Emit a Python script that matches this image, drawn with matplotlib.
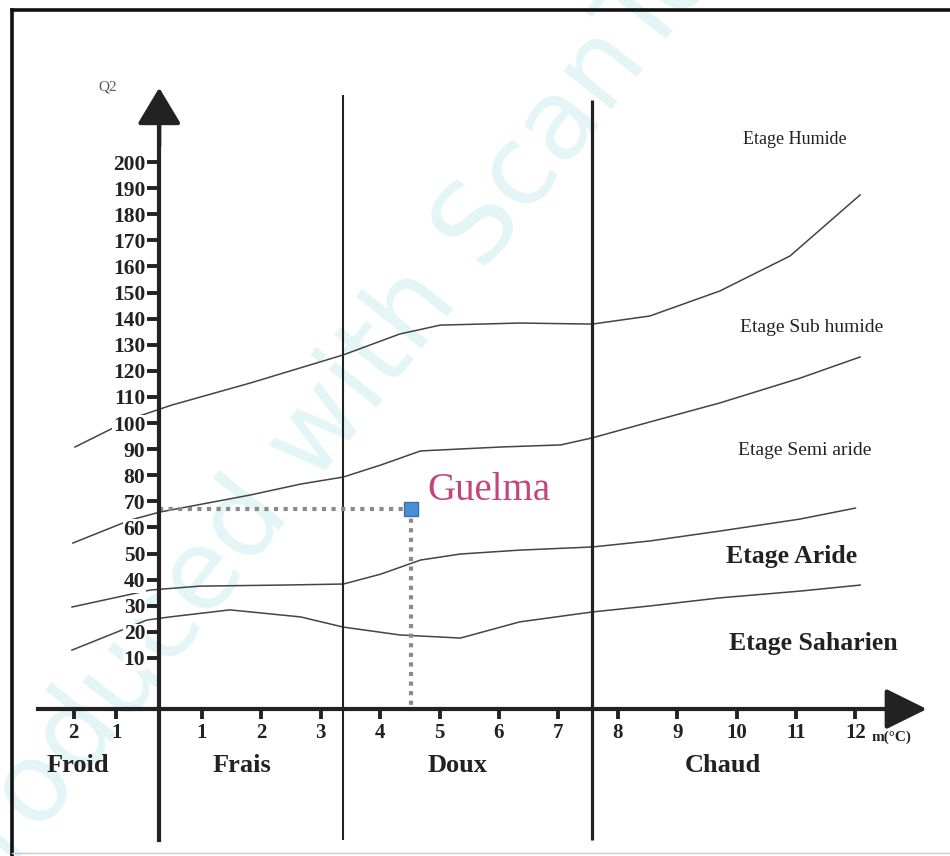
"""
Emberger climagram (Q2 vs m) with the Guelma station.
"""
import numpy as np
import matplotlib
matplotlib.use("Agg")
import matplotlib.pyplot as plt
from matplotlib.lines import Line2D

# --- data ---
curve_hum_x = [-1.97, -0.61, 0.30, 1.81, 3.38, 4.33, 5.01, 6.35, 7.57, 8.54, 9.72, 10.90, 12.08]
curve_hum_y = [90.8, 101.9, 106.9, 115.3, 126.1, 134.1, 137.5, 138.3, 137.9, 141.0, 150.6, 164.0, 187.4]

curve_semi_x = [-2.02, -0.68, 0.02, 1.81, 2.66, 3.38, 4.01, 4.68, 6.03, 7.04, 7.57, 8.54, 9.72, 11.07, 12.08]
curve_semi_y = [54.0, 62.8, 65.9, 72.4, 76.6, 79.3, 83.9, 89.3, 90.8, 91.6, 94.3, 100.4, 107.7, 117.2, 125.3]

curve_arid_x = [-2.04, -0.21, 0.95, 2.32, 3.38, 4.01, 4.68, 5.35, 6.35, 7.57, 8.54, 9.72, 11.07, 12.0]
curve_arid_y = [29.5, 36.0, 37.5, 37.9, 38.3, 42.1, 47.5, 49.8, 51.3, 52.5, 54.8, 58.6, 63.2, 67.4]

curve_sah_x = [-2.04, -0.29, 0.25, 1.47, 2.66, 3.38, 4.33, 5.35, 6.35, 7.57, 8.54, 9.72, 11.07, 12.08]
curve_sah_y = [13.0, 24.5, 25.7, 28.4, 25.7, 21.8, 18.8, 17.6, 23.8, 27.6, 29.9, 33.0, 35.6, 37.9]

guelma_m = 4.52
guelma_q2 = 67

q2_ticks = list(range(10, 201, 10))
m_ticks = [-2, -1, 1, 2, 3, 4, 5, 6, 7, 8, 9, 10, 11, 12]
m_tick_labels = ["2", "1", "1", "2", "3", "4", "5", "6", "7", "8", "9", "10", "11", "12"]

zone_names = ["Froid", "Frais", "Doux", "Chaud"]
zone_x = [-1.91, 1.67, 5.31, 9.77]
zone_limits = [3.38, 7.57]

etage_names = ["Etage Humide", "Etage Sub humide", "Etage Semi aride", "Etage Aride", "Etage Saharien"]
etage_x = [10.98, 11.27, 11.15, 10.93, 11.29]
etage_y = [208.8, 136.4, 89.3, 48.7, 15.7]
etage_size = [13, 14, 14, 18.5, 18.5]
etage_bold = [False, False, False, True, True]

AXIS_Y = -9.6   # Q2 level where the m axis is drawn in the scan
INK = "#222222"
SERIF = ["Liberation Serif", "DejaVu Serif"]


# the scan compresses the negative side of the m axis
def fwd(x):
    x = np.asarray(x, dtype=float)
    return np.where(x < 1, 0.72 * x, x - 0.28)


def inv(u):
    u = np.asarray(u, dtype=float)
    return np.where(u < 0.72, u / 0.72, u + 0.28)


fig = plt.figure(figsize=(9.5, 8.56), dpi=100)
ax = fig.add_axes([0, 0, 1, 1])
ax.set_xscale("function", functions=(fwd, inv))
ax.set_xlim(-3.723, 13.593)
ax.set_ylim(-65.9, 262.07)
ax.patch.set_alpha(0)

# watermark of the scanner, behind everything
fig.text(-0.03, -0.075, "Produced with ScanTo PDF", fontsize=80, color="#e4f5f8",
         rotation=51.7, rotation_mode="anchor", ha="left", va="baseline",
         family="DejaVu Sans", zorder=-5)

# page frame
fig.add_artist(Line2D([12 / 950, 1], [1 - 10 / 856] * 2, color="#111", lw=2.6))
fig.add_artist(Line2D([12 / 950] * 2, [0, 1 - 10 / 856], color="#111", lw=2.6))
fig.add_artist(Line2D([12 / 950, 1], [3 / 856] * 2, color="#cccccc", lw=1))

# spines as axes
for s in ["top", "right"]:
    ax.spines[s].set_visible(False)
ax.spines["left"].set_position(("data", 0))
ax.spines["bottom"].set_position(("data", AXIS_Y))
ax.spines["left"].set_bounds(-59.8, 220)
ax.spines["bottom"].set_bounds(-2.84, 13.0)
for s in ["left", "bottom"]:
    ax.spines[s].set_linewidth(3)
    ax.spines[s].set_color(INK)

ax.annotate("", xy=(0, 229.5), xytext=(0, 205),
            arrowprops=dict(arrowstyle="-|>,head_length=0.75,head_width=0.45",
                            mutation_scale=30, lw=3, color=INK))
ax.annotate("", xy=(13.25, AXIS_Y), xytext=(12.6, AXIS_Y),
            arrowprops=dict(arrowstyle="-|>,head_length=0.85,head_width=0.42",
                            mutation_scale=30, lw=3, color=INK))

ax.set_yticks(q2_ticks)
ax.set_yticklabels([str(v) for v in q2_ticks])
ax.set_xticks(m_ticks)
ax.set_xticklabels(m_tick_labels)
ax.tick_params(axis="y", direction="out", length=9, width=2.8, pad=1,
               color=INK, labelsize=15.5, labelcolor=INK)
ax.tick_params(axis="x", direction="out", length=7, width=2.8, pad=3,
               color=INK, labelsize=15, labelcolor=INK)
for lab in ax.get_xticklabels() + ax.get_yticklabels():
    lab.set_family(SERIF)
    lab.set_fontweight("bold")
for lab in ax.get_yticklabels():
    lab.set_bbox(dict(facecolor="white", edgecolor="none", pad=0.3))

# temperature zone limits
ax.vlines(zone_limits[0], -59.8, 225.7, color=INK, lw=1.5)
ax.vlines(zone_limits[1], -59.8, 223.8, color=INK, lw=2.3)

# bioclimatic stage boundaries
for cx, cy in [(curve_hum_x, curve_hum_y), (curve_semi_x, curve_semi_y),
               (curve_arid_x, curve_arid_y), (curve_sah_x, curve_sah_y)]:
    ax.plot(cx, cy, color="#444444", lw=1.1, zorder=1)

# Guelma station
ax.plot([0, guelma_m], [guelma_q2, guelma_q2], color="#8a8a8a", lw=3,
        linestyle=(0, (1, 1.3)), zorder=2)
ax.plot([guelma_m, guelma_m], [guelma_q2, AXIS_Y], color="#8a8a8a", lw=3,
        linestyle=(0, (1, 1.3)), zorder=2)
ax.plot([guelma_m], [guelma_q2], marker="s", ms=10, color="#4a8fd6",
        markeredgecolor="#3a6fb0", zorder=3)
ax.text(4.80, 74.3, "Guelma", fontsize=28, color="#c4457c", family=SERIF,
        ha="left", va="center")

# labels
ax.text(-1.2, 228.7, "Q2", fontsize=11, color="#555555", family=SERIF,
        ha="center", va="center")
ax.text(12.28, -20.3, "m(°C)", fontsize=11, color=INK, family=SERIF,
        fontweight="bold", ha="left", va="center")
for name, zx in zip(zone_names, zone_x):
    ax.text(zx, -31.4, name, fontsize=19, color=INK, family=SERIF,
            fontweight="bold", ha="center", va="center")
for name, ex, ey, sz, b in zip(etage_names, etage_x, etage_y, etage_size, etage_bold):
    ax.text(ex, ey, name, fontsize=sz, color=INK, family=SERIF,
            fontweight="bold" if b else "normal", ha="center", va="center")

fig.savefig("out.png", dpi=100)
